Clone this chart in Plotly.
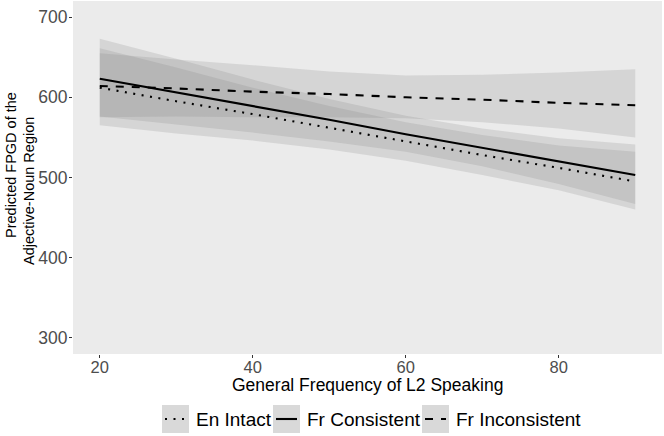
import plotly.graph_objects as go

# ---- data ----
x_vals = [20, 30, 40, 50, 60, 70, 80, 90]

en_fit = [612, 595, 579, 562, 545, 528, 512, 495]
en_lo = [565, 555, 546, 535, 521, 503, 484, 460]
en_hi = [661, 637, 612, 589, 569, 553, 540, 532]

con_fit = [623, 606, 589, 572, 554, 537, 520, 503]
con_lo = [576, 566, 556, 545, 532, 514, 492, 467]
con_hi = [673, 648, 622, 598, 577, 561, 549, 541]

inc_fit = [614, 611, 607, 604, 600, 597, 593, 590]
inc_lo = [575, 576, 575, 575, 574, 569, 561, 550]
inc_hi = [655, 647, 640, 632, 627, 628, 631, 635]

series_names = ["En Intact", "Fr Consistent", "Fr Inconsistent"]
y_ticks = [300, 400, 500, 600, 700]
x_ticks = [20, 40, 60, 80]
x_title = "General Frequency of L2 Speaking"
y_title_lines = ["Predicted FPGD of the", "Adjective-Noun Region"]

# ---- styles ----
W, H = 664, 436
ML, MR, MT, MB = 73, 2, 1, 82
RIBBON = "rgba(130,130,130,0.21)"
DASHES = {"En Intact": "2px,6.5px", "Fr Consistent": "solid", "Fr Inconsistent": "8px,8px"}
FONT = "Liberation Sans, Arial, sans-serif"

series = [
    ("En Intact", en_fit, en_lo, en_hi),
    ("Fr Consistent", con_fit, con_lo, con_hi),
    ("Fr Inconsistent", inc_fit, inc_lo, inc_hi),
]

fig = go.Figure()

# ribbons first
for name, fit, lo, hi in series:
    fig.add_trace(go.Scatter(x=x_vals, y=lo, mode="lines", line=dict(width=0),
                             showlegend=False, hoverinfo="skip"))
    fig.add_trace(go.Scatter(x=x_vals, y=hi, mode="lines", line=dict(width=0),
                             fill="tonexty", fillcolor=RIBBON,
                             showlegend=False, hoverinfo="skip"))

# lines on top
for name, fit, lo, hi in series:
    fig.add_trace(go.Scatter(x=x_vals, y=fit, mode="lines", name=name,
                             line=dict(color="black", width=2.1, dash=DASHES[name]),
                             showlegend=False))

pw = W - ML - MR
ph = H - MT - MB


def px_x(p):
    return (p - ML) / pw


def px_y(p):
    return (H - MB - p) / ph


# manual ggplot-like legend at the bottom
key_boxes = [(162, 189, 194), (273, 300, 305), (422, 449, 454)]  # box x0, x1, text x
shapes = []
annotations = []
for (x0, x1, tx), name in zip(key_boxes, series_names):
    shapes.append(dict(type="rect", xref="paper", yref="paper",
                       x0=px_x(x0), x1=px_x(x1), y0=px_y(433), y1=px_y(405),
                       fillcolor="#D9D9D9", line=dict(width=0), layer="above"))
    shapes.append(dict(type="line", xref="paper", yref="paper",
                       x0=px_x(x0 + 3), x1=px_x(x1 - 3), y0=px_y(419), y1=px_y(419),
                       line=dict(color="black", width=2.1, dash=DASHES[name]), layer="above"))
    annotations.append(dict(text=name, xref="paper", yref="paper",
                            x=px_x(tx), y=px_y(419), xanchor="left", yanchor="middle",
                            showarrow=False, font=dict(size=19, color="black", family=FONT)))

# axis titles
annotations.append(dict(text=x_title, xref="paper", yref="paper",
                        x=0.5, y=px_y(385), xanchor="center", yanchor="middle",
                        showarrow=False, font=dict(size=17.5, color="black", family=FONT)))
for line_text, cx, cy in zip(y_title_lines, [11, 29], [165, 191]):
    annotations.append(dict(text=line_text, xref="paper", yref="paper", textangle=-90,
                            x=px_x(cx), y=px_y(cy), xanchor="center", yanchor="middle",
                            showarrow=False, font=dict(size=14.5, color="black", family=FONT)))

fig.update_layout(
    width=W, height=H,
    margin=dict(l=ML, r=MR, t=MT, b=MB, autoexpand=False),
    paper_bgcolor="white",
    plot_bgcolor="#EBEBEB",
    font=dict(family=FONT, color="black"),
    showlegend=False,
    shapes=shapes,
    annotations=annotations,
    xaxis=dict(
        range=[16.5, 93.5], tickvals=x_ticks, ticktext=[str(v) for v in x_ticks],
        showgrid=False, zeroline=False, showline=False,
        ticks="outside", ticklen=3, tickcolor="#333333", tickwidth=1,
        tickfont=dict(size=16.5, color="#4D4D4D"), ticklabelstandoff=-5,
        automargin=False,
    ),
    yaxis=dict(
        range=[280, 720], tickvals=y_ticks, ticktext=[str(v) for v in y_ticks],
        showgrid=False, zeroline=False, showline=False,
        ticks="outside", ticklen=3, tickcolor="#333333", tickwidth=1,
        tickfont=dict(size=17.5, color="#4D4D4D"), ticklabelstandoff=-2,
        automargin=False,
    ),
)

fig.write_html("out.html",
               config={"displayModeBar": False},
               post_script="document.body.style.margin='0';document.body.style.overflow='hidden';")
